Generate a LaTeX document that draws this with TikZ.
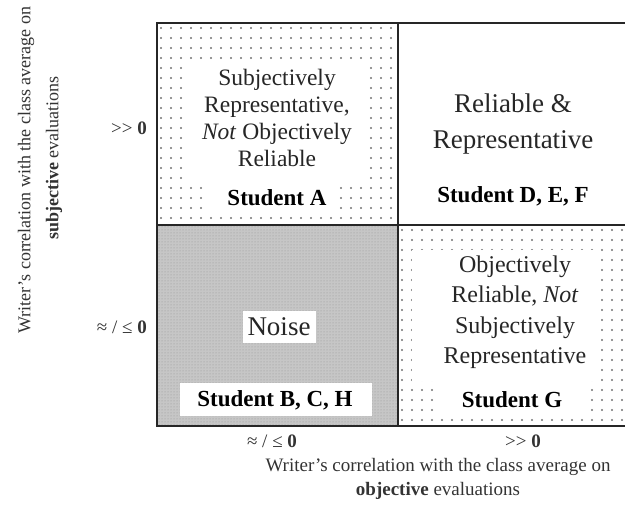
\documentclass[tikz,border=0pt]{standalone}
\usepackage{fontspec}
\setmainfont{Liberation Serif}
\usetikzlibrary{patterns}
\tikzset{
  frameline/.style={line width=1.6pt, draw=black!85},
  whitebox/.style={fill=white, draw=none},
  cell/.style={align=center, inner sep=0pt, text=black!85},
  stud/.style={inner sep=0pt, text=black, font=\fontsize{23}{26}\selectfont\bfseries},
  axval/.style={inner sep=0pt, text=black!80, font=\fontsize{19}{22}\selectfont},
  axlab/.style={inner sep=0pt, align=center, text=black!80, font=\fontsize{19}{24}\selectfont},
  ylab/.style={inner sep=0pt, align=center, text=black!80, font=\fontsize{18}{24}\selectfont}
}
\begin{document}
\begin{tikzpicture}[x=1pt,y=-1pt]
\useasboundingbox (0,0) rectangle (625,521);
% dotted patterns in top-left and bottom-right quadrants
\foreach \x in {161,171,...,395} \foreach \y in {28,38,...,218} \fill[black!55] (\x,\y) circle (1.1);
\foreach \x in {402,412,...,622} \foreach \y in {230,240,...,420} \fill[black!55] (\x,\y) circle (1.1);
% white inner areas
\fill[whitebox] (188,62) rectangle (366,184);
\fill[whitebox] (208,184) rectangle (336,211);
\fill[whitebox] (412,250) rectangle (601,381);
\fill[whitebox] (435,381) rectangle (585,413);
% noise quadrant
\fill[gray!45] (157,225) rectangle (398,426);
\fill[pattern=dots, pattern color=gray!85] (157,225) rectangle (398,426);
\fill[whitebox] (243,311) rectangle (316,343);
\fill[whitebox] (180,383) rectangle (372,416);
% frame lines
\draw[frameline] (625,23) -- (157,23) -- (157,426) -- (625,426);
\draw[frameline] (398,23) -- (398,426);
\draw[frameline] (157,225) -- (625,225);
% cell texts
\node[cell, font=\fontsize{23.5}{27}\selectfont] (tl) at (277,118) {Subjectively\\Representative,\\\textit{Not} Objectively\\Reliable};
\node[stud] (sa) at (277,198) {Student A};
\node[cell, font=\fontsize{27}{36}\selectfont] (tr) at (513,124) {Reliable \&\\Representative};
\node[stud] (sdef) at (513,196) {Student D, E, F};
\node[cell, font=\fontsize{27}{32}\selectfont] (noise) at (279,327) {Noise};
\node[stud] (sbch) at (275,400) {Student B, C, H};
\node[cell, font=\fontsize{24}{30.5}\selectfont] (br) at (515,312) {Objectively\\Reliable, \textit{Not}\\Subjectively\\Representative};
\node[stud] (sg) at (512,400) {Student G};
% axis values
\node[axval, anchor=east] (yhi) at (147,128) {{>}{>} \textbf{0}};
\node[axval, anchor=east] (ylo) at (147,327) {≈ / ≤ \textbf{0}};
\node[axval] (xlo) at (272,441) {≈ / ≤ \textbf{0}};
\node[axval] (xhi) at (523,441) {{>}{>} \textbf{0}};
% axis labels
\node[axlab] (xl1) at (438,467) {Writer’s correlation with the class average on};
\node[axlab] (xl2) at (438,491) {\textbf{objective} evaluations};
\node[ylab, rotate=90] (yl1) at (26,170) {Writer’s correlation with the class average on};
\node[ylab, rotate=90] (yl2) at (54,158) {\textbf{subjective} evaluations};
\end{tikzpicture}
\end{document}
